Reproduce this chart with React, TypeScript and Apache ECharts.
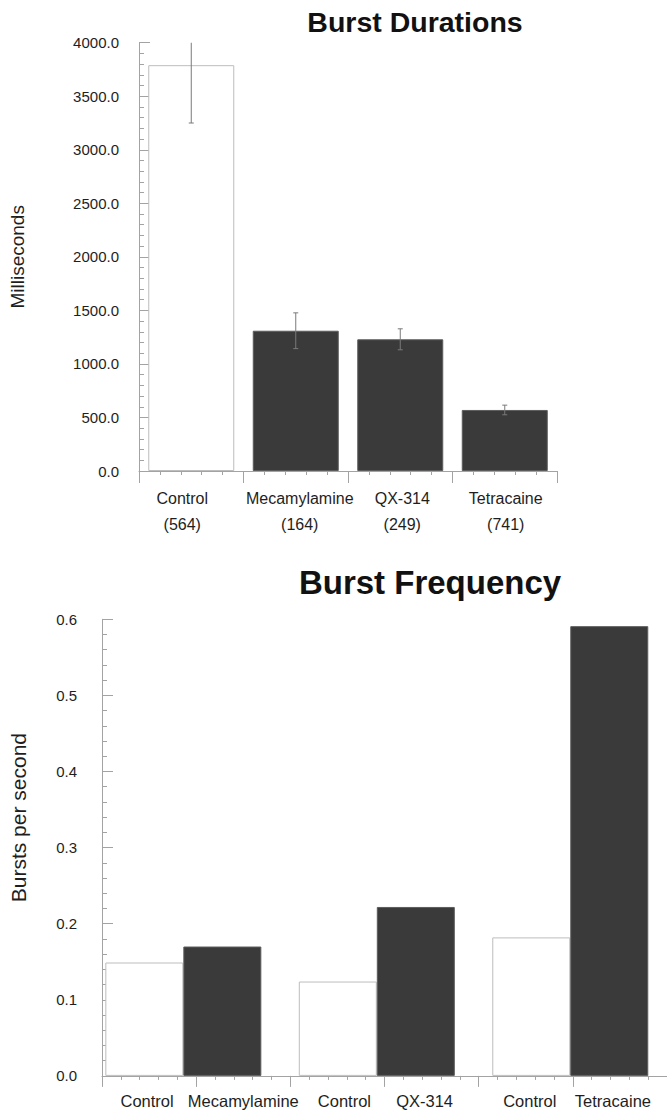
import React, { useEffect, useRef } from "react";
import * as echarts from "echarts";

// ---- Burst durations (mean ± error, n in parentheses) ----
const durationCategories = ["Control", "Mecamylamine", "QX-314", "Tetracaine"];
const durationCounts = [564, 164, 249, 741];
const durationMeans = [3790, 1310, 1230, 570];
const durationErrors = [540, 167, 98, 45];
const durationIsControl = [true, false, false, false];
const durationTicks = [0, 500, 1000, 1500, 2000, 2500, 3000, 3500, 4000];

// ---- Burst frequency (paired control vs. drug) ----
const frequencyGroups = ["Mecamylamine", "QX-314", "Tetracaine"];
const frequencyLabels = ["Control", "Mecamylamine", "Control", "QX-314", "Control", "Tetracaine"];
const frequencyControl = [0.149, 0.124, 0.182];
const frequencyDrug = [0.17, 0.222, 0.591];
const frequencyTicks = [0, 0.1, 0.2, 0.3, 0.4, 0.5, 0.6];

const FONT = "Liberation Sans, Arial, Helvetica, sans-serif";
const AXIS_GRAY = "#a3a3a3";
const DARK = "#3a3a3a";
const TEXT = "#1e1e1e";

// small horizontal nudges for the category captions (px, positive = right)
const durationLabelNudge = [-9, 4, 2, 1];
const frequencyLabelNudge = [-2, 0, 7, -7, 4, -7];

function nudgeRich(nudges: number[], fontSize: number, lineHeight: number) {
  const rich: Record<string, any> = {};
  nudges.forEach((n, i) => {
    rich["n" + i] = {
      fontSize,
      lineHeight,
      fontFamily: FONT,
      color: TEXT,
      padding: n >= 0 ? [0, 0, 0, 2 * n] : [0, -2 * n, 0, 0],
    };
  });
  return rich;
}

export default function App() {
  const ref = useRef<HTMLDivElement>(null);

  useEffect(() => {
    if (!ref.current) return;
    const chart = echarts.init(ref.current, undefined, { renderer: "svg" });

    const topGrid = { left: 128, top: 42.7, width: 429, height: 428.3 };
    const botGrid = { left: 90.6, top: 619.3, width: 583.2, height: 456.6 };
    const botBarGrid = { left: 86.6, top: 619.3, width: 585, height: 456.6 };

    const tickAxisBase = {
      type: "value",
      position: "bottom",
      interval: 1,
      axisLine: { show: true, lineStyle: { color: AXIS_GRAY, width: 1 } },
      axisTick: { show: true, length: 12, lineStyle: { color: AXIS_GRAY } },
      minorTick: { show: true, splitNumber: 5, length: 4, lineStyle: { color: AXIS_GRAY } },
      axisLabel: { show: false },
      splitLine: { show: false },
      minorSplitLine: { show: false },
    };

    const valueAxisBase = (max: number, interval: number, fmt: (v: number) => string, margin: number) => ({
      type: "value",
      min: 0,
      max,
      interval,
      axisLine: { show: true, lineStyle: { color: AXIS_GRAY, width: 1 } },
      axisTick: { show: true, inside: true, length: 11, lineStyle: { color: AXIS_GRAY } },
      minorTick: { show: true, splitNumber: 5, length: 5, lineStyle: { color: AXIS_GRAY } },
      splitLine: { show: false },
      minorSplitLine: { show: false },
      axisLabel: {
        show: true,
        margin,
        fontSize: 15,
        fontFamily: FONT,
        color: TEXT,
        formatter: fmt,
      },
      nameLocation: "middle",
      nameRotate: 90,
    });

    const durationLabelText = durationCategories.map((c, i) => `${c}\n(${durationCounts[i]})`);

    chart.setOption({
      animation: false,
      backgroundColor: "#ffffff",
      title: [
        {
          text: "Burst Durations",
          left: 410,
          top: 2,
          textAlign: "center",
          textStyle: { fontSize: 28.5, fontWeight: "bold", fontFamily: FONT, color: "#111" },
        },
        {
          text: "Burst Frequency",
          left: 425,
          top: 561,
          textAlign: "center",
          textStyle: { fontSize: 33, fontWeight: "bold", fontFamily: FONT, color: "#111" },
        },
      ],
      grid: [topGrid, botGrid, botBarGrid],
      xAxis: [
        {
          type: "category",
          gridIndex: 0,
          data: durationLabelText,
          axisLine: { show: false },
          axisTick: { show: false },
          axisLabel: {
            interval: 0,
            margin: 14,
            formatter: (v: string, i: number) =>
              v
                .split("\n")
                .map((line) => `{n${i}|${line}}`)
                .join("\n"),
            rich: nudgeRich(durationLabelNudge, 16, 26),
          },
        },
        { ...tickAxisBase, gridIndex: 0, min: 0, max: durationCategories.length },
        {
          type: "category",
          gridIndex: 1,
          data: frequencyLabels,
          axisLine: { show: false },
          axisTick: { show: false },
          axisLabel: {
            interval: 0,
            margin: 15,
            formatter: (v: string, i: number) => `{n${i}|${v}}`,
            rich: nudgeRich(frequencyLabelNudge, 16.5, 20),
          },
        },
        {
          ...tickAxisBase,
          gridIndex: 1,
          min: 0,
          max: frequencyLabels.length,
          axisTick: { show: true, length: 11, lineStyle: { color: AXIS_GRAY } },
        },
        {
          type: "category",
          gridIndex: 2,
          data: frequencyGroups,
          show: false,
        },
      ],
      yAxis: [
        {
          ...valueAxisBase(durationTicks[durationTicks.length - 1], durationTicks[1] - durationTicks[0], (v) => v.toFixed(1), 20),
          gridIndex: 0,
          name: "Milliseconds",
          nameGap: 112,
          nameTextStyle: { fontSize: 19, fontFamily: FONT, color: TEXT },
        },
        {
          ...valueAxisBase(frequencyTicks[frequencyTicks.length - 1], 0.1, (v) => v.toFixed(1), 25),
          gridIndex: 1,
          name: "Bursts per second",
          nameGap: 73,
          nameTextStyle: { fontSize: 21, fontFamily: FONT, color: TEXT, padding: [0, 0, 0, 60] },
        },
        {
          type: "value",
          gridIndex: 2,
          min: 0,
          max: frequencyTicks[frequencyTicks.length - 1],
          show: false,
        },
      ],
      series: [
        {
          type: "bar",
          xAxisIndex: 0,
          yAxisIndex: 0,
          barWidth: 86,
          data: durationMeans.map((v, i) => ({
            value: v,
            itemStyle: durationIsControl[i]
              ? { color: "#ffffff", borderColor: "#bdbdbd", borderWidth: 1 }
              : { color: DARK, borderColor: "#5c5c5c", borderWidth: 1 },
          })),
        },
        {
          type: "custom",
          xAxisIndex: 0,
          yAxisIndex: 0,
          clip: true,
          z: 5,
          data: durationMeans.map((m, i) => [i, m, durationErrors[i]]),
          renderItem: (params: any, api: any) => {
            const idx = api.value(0);
            const mean = api.value(1);
            const err = api.value(2);
            const hi = api.coord([idx, mean + err]);
            const lo = api.coord([idx, mean - err]);
            const cap = 2.5;
            const style = { stroke: "#7a7a7a", lineWidth: 1 };
            return {
              type: "group",
              children: [
                { type: "line", shape: { x1: hi[0], y1: hi[1], x2: lo[0], y2: lo[1] }, style },
                { type: "line", shape: { x1: hi[0] - cap, y1: hi[1], x2: hi[0] + cap, y2: hi[1] }, style },
                { type: "line", shape: { x1: lo[0] - cap, y1: lo[1], x2: lo[0] + cap, y2: lo[1] }, style },
              ],
            };
          },
        },
        {
          type: "bar",
          name: "Control",
          xAxisIndex: 4,
          yAxisIndex: 2,
          barWidth: 78,
          barGap: "0%",
          data: frequencyControl,
          itemStyle: { color: "#ffffff", borderColor: "#bdbdbd", borderWidth: 1 },
        },
        {
          type: "bar",
          name: "Drug",
          xAxisIndex: 4,
          yAxisIndex: 2,
          barWidth: 78,
          barGap: "0%",
          data: frequencyDrug,
          itemStyle: { color: DARK, borderColor: "#5c5c5c", borderWidth: 1 },
        },
      ],
    });

    return () => chart.dispose();
  }, []);

  return (
    <div
      ref={ref}
      style={{ position: "fixed", left: 0, top: 0, width: 667, height: 1116, background: "#fff" }}
    />
  );
}
